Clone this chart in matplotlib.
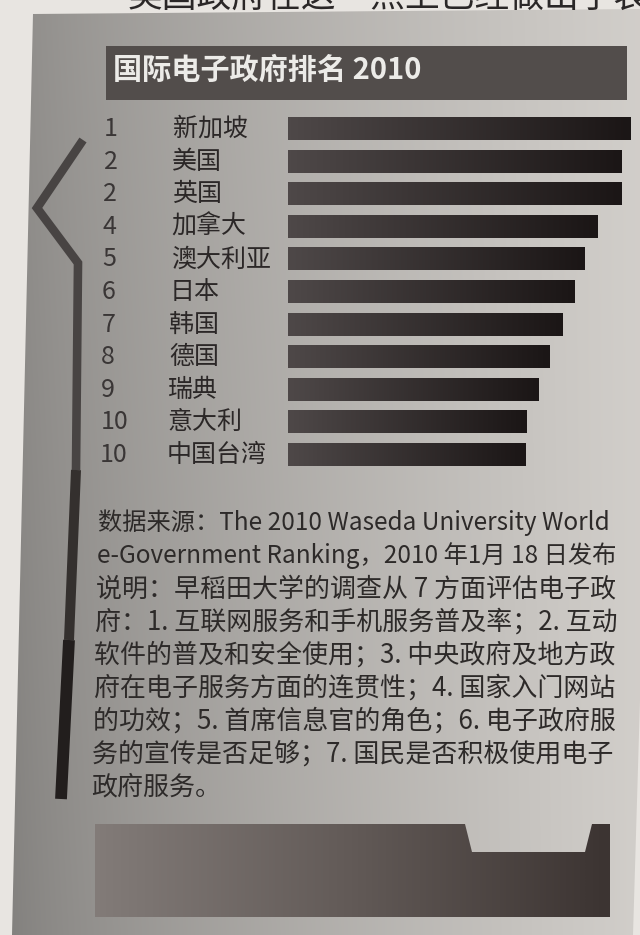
import numpy as np
import matplotlib
matplotlib.use('Agg')
import matplotlib.pyplot as plt
from matplotlib.patches import Polygon, Rectangle
from matplotlib.colors import LinearSegmentedColormap
from matplotlib import transforms

plt.rcParams['font.family'] = ['Noto Sans CJK SC', 'DejaVu Sans']

# Datos del gráfico
titulo = '国际电子政府排名 2010'
ranks = ['1', '2', '2', '4', '5', '6', '7', '8', '9', '10', '10']
names = ['新加坡', '美国', '英国', '加拿大', '澳大利亚', '日本',
         '韩国', '德国', '瑞典', '意大利', '中国台湾']
# puntuación estimada a partir de la longitud de las barras
scores = [100, 97.1, 97.1, 90.1, 86.5, 83.6, 80.1, 76.3, 73.1, 69.6, 69.3]
notas = [
    '数据来源：The 2010 Waseda University World',
    'e-Government Ranking，2010 年1月 18 日发布',
    '说明：早稻田大学的调查从 7 方面评估电子政',
    '府：1. 互联网服务和手机服务普及率；2. 互动',
    '软件的普及和安全使用；3. 中央政府及地方政',
    '府在电子服务方面的连贯性；4. 国家入门网站',
    '的功效；5. 首席信息官的角色；6. 电子政府服',
    '务的宣传是否足够；7. 国民是否积极使用电子',
    '政府服务。',
]
linea_sup = '美国政府在这一点上已经做出了表'

W, H = 640, 935
fig = plt.figure(figsize=(6.4, 9.35), dpi=100)
fig.patch.set_facecolor('#e8e5e1')

# Ejes de fondo en pixeles
bg = fig.add_axes([0, 0, 1, 1])
bg.set_xlim(0, W)
bg.set_ylim(H, 0)
bg.axis('off')

# Panel gris con sombreado
panel = Polygon([(33, 14), (640, 9), (640, 700), (633, 935), (12, 935)],
                closed=True, fc='none', ec='none')
bg.add_patch(panel)
yy, xx = np.mgrid[0:1:120j, 0:1:80j]
shade = 0.54 + 0.28 * xx**0.7 - 0.04 * yy * (1 - xx)
rgb = np.dstack([shade, shade * 0.985, shade * 0.965])
img = bg.imshow(rgb, extent=(0, W, H, 0), aspect='auto', zorder=1,
                interpolation='bilinear')
img.set_clip_path(panel)

# Barra del título
bg.add_patch(Rectangle((106, 46), 521, 54, fc='#524d4b', ec='none', zorder=2))
bg.text(113, 70, titulo, color='#ecebe8', fontsize=21, fontweight='bold',
        va='center', ha='left', zorder=3)

# Línea decorativa izquierda
bg.plot([83, 37, 78, 76], [140, 208, 263, 470], color='#484443', lw=6.2,
        solid_joinstyle='miter', solid_capstyle='butt', zorder=2)
bg.plot([76, 69], [470, 640], color='#34302e', lw=7.2, solid_capstyle='butt', zorder=2)
bg.plot([69, 61], [640, 799], color='#221e1d', lw=8.5, solid_capstyle='butt', zorder=2)

# Figura: barras
ax = fig.add_axes([288/W, 1 - 471.3/H, 343/W, 358.6/H])
ax.patch.set_visible(False)
ax.set_zorder(3)
n = len(scores)
ax.barh(range(n), scores, height=0.68, color='#2e2828', zorder=1)
cmap = LinearSegmentedColormap.from_list('barra', ['#4e4848', '#1b1616'])
grad = np.linspace(0, 1, 100).reshape(1, -1)
for i, v in enumerate(scores):
    ax.imshow(grad, extent=(0, v, i + 0.34, i - 0.34), cmap=cmap,
              aspect='auto', interpolation='bilinear', zorder=2)
ax.set_xlim(0, 100)
ax.set_ylim(n - 0.5, -0.5)
ax.axis('off')

trans = transforms.blended_transform_factory(bg.transData, ax.transData)
for i in range(n):
    ax.text(104 - i*0.4, i, ranks[i], transform=trans, fontsize=18,
            color='#3a3636', va='center', ha='left')
    ax.text(173 - i*0.6, i, names[i], transform=trans, fontsize=18,
            color='#2b2727', va='center', ha='left', fontweight='medium')

# Texto de notas
for i, linea in enumerate(notas):
    tam = 17.5 if i < 2 else 18.7
    bg.text(98 - i*0.9, 523 + i*33, linea, fontsize=tam, color='#2d2a29',
            va='center', ha='left', zorder=3)

# Forma inferior
forma = Polygon([(95, 824), (465, 824), (472, 852), (585, 852), (592, 824),
                 (610, 824), (610, 917), (95, 917)], closed=True,
                fc='none', ec='none')
bg.add_patch(forma)
cmap2 = LinearSegmentedColormap.from_list('forma', ['#827b78', '#625a57', '#3c3432'])
img2 = bg.imshow(np.linspace(0, 1, 100).reshape(1, -1), extent=(95, 610, 917, 824),
                 cmap=cmap2, aspect='auto', zorder=2, interpolation='bilinear')
img2.set_clip_path(forma)

# Línea de texto cortada arriba
bg.text(128, -3, linea_sup, fontsize=25, color='#2a2727', va='center', ha='left')

bg.set_xlim(0, W)
bg.set_ylim(H, 0)

fig.savefig('out.png', dpi=100)
